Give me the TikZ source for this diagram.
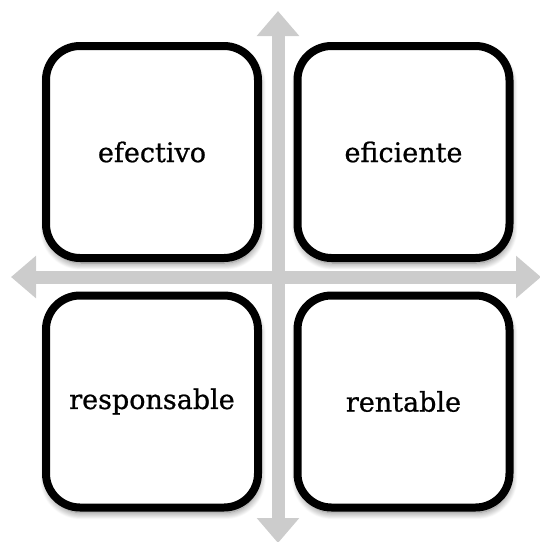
\documentclass[tikz,border=0pt]{standalone}
\usepackage{fontspec}
\setmainfont{DejaVu Serif}[FakeBold=0.8]
\usetikzlibrary{arrows.meta,shadows.blur}
\definecolor{axisgray}{HTML}{CCCCCC}
\tikzset{
  quadbox/.style={draw=black, fill=white, line width=8pt, rounded corners=34pt,
    minimum width=212pt, minimum height=212pt, inner sep=0pt,
    font=\fontsize{27}{32}\selectfont,
    blur shadow={shadow xshift=1pt, shadow yshift=-5pt, shadow blur radius=7pt, shadow blur steps=14, shadow opacity=55}},
  axis/.style={draw=axisgray, line width=13pt, {Triangle[width=41pt,length=25pt]}-{Triangle[width=41pt,length=25pt]}}
}
\begin{document}
\begin{tikzpicture}[x=1pt,y=-1pt]
\useasboundingbox (0,0) rectangle (540,542);
\coordinate (top) at (278,11);
\coordinate (bot) at (278,543);
\coordinate (lft) at (11,277);
\coordinate (rgt) at (541,277);
\draw[axis] (lft) -- (rgt);
\draw[axis] (top) -- (bot);
\node[quadbox] (tl) at (152,152) {efectivo};
\node[quadbox] (tr) at (403.5,152) {eficiente};
\node[quadbox] (bl) at (152,401.5) {responsable};
\node[quadbox] (br) at (403.5,401.5) {rentable};
\end{tikzpicture}
\end{document}
